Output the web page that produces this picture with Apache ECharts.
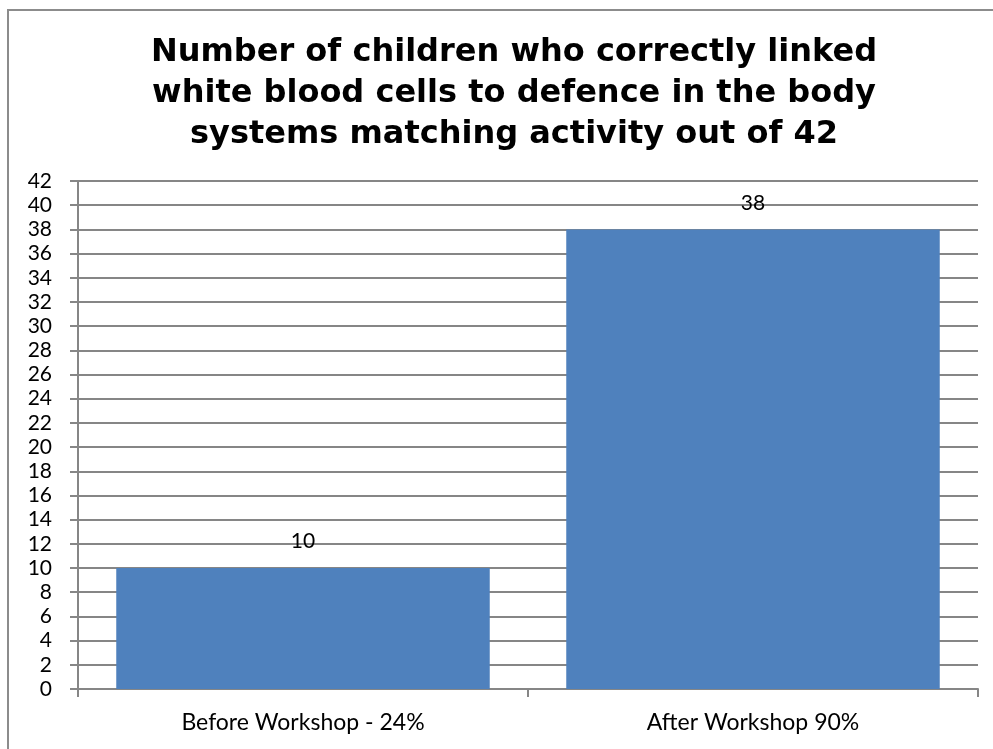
<!DOCTYPE html>
<html>
<head>
<meta charset="utf-8">
<script src="https://cdn.jsdelivr.net/npm/echarts@6/dist/echarts.min.js"></script>
<style>html,body{margin:0;padding:0;background:#fff}#c{width:993px;height:749px}</style>
</head>
<body>
<div id="c"></div>
<script>
var categories = ['Before Workshop - 24%', 'After Workshop 90%'];
var values = [10, 38];
var titleLines = ['Number of children who correctly linked', 'white blood cells to defence in the body', 'systems matching activity out of 42'];

var chart = echarts.init(document.getElementById('c'), null, {renderer: 'canvas'});
var axisColor = '#868686';
chart.setOption({
  animation: false,
  backgroundColor: '#fff',
  graphic: [{
    type: 'rect', shape: {x: 8, y: 10, width: 1200, height: 900},
    style: {fill: 'none', stroke: '#8c8c8c', lineWidth: 2}, silent: true
  }],
  title: {
    text: titleLines.join('\n'),
    left: 509, top: 27, textAlign: 'center',
    textStyle: {fontFamily: 'DejaVu Sans', fontWeight: 'bold', fontSize: 32, lineHeight: 41, color: '#000'}
  },
  grid: {left: 78, right: 15, top: 181, bottom: 60, containLabel: false},
  xAxis: {
    type: 'category', data: categories,
    axisLine: {show: true, lineStyle: {color: axisColor, width: 2}},
    axisTick: {show: true, length: 8, lineStyle: {color: axisColor, width: 2}},
    axisLabel: {fontFamily: 'Lato', fontSize: 23, color: '#000', margin: 22}
  },
  yAxis: {
    type: 'value', min: 0, max: 42, interval: 2,
    axisLine: {show: true, lineStyle: {color: axisColor, width: 2}},
    axisTick: {show: true, length: 8, lineStyle: {color: axisColor, width: 2}},
    splitLine: {show: true, lineStyle: {color: axisColor, width: 2}},
    axisLabel: {fontFamily: 'Lato', fontSize: 21, color: '#000', margin: 26}
  },
  series: [{
    type: 'bar', data: values, barCategoryGap: '17%',
    itemStyle: {color: '#4F81BD'},
    label: {show: true, position: 'top', distance: 16, fontFamily: 'Lato', fontSize: 21, color: '#000'}
  }]
});
</script>
</body>
</html>
